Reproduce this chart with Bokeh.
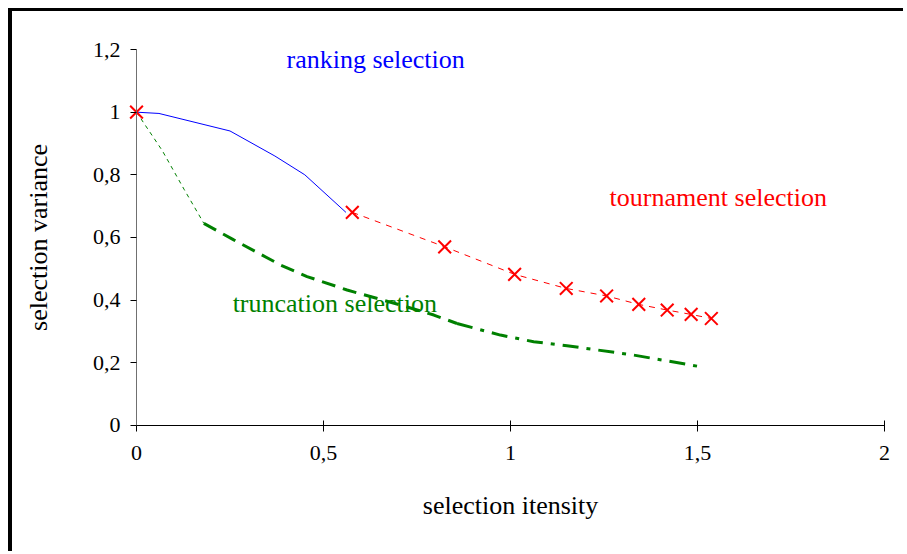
import math
from bokeh.plotting import figure
from bokeh.models import ColumnDataSource, Label, FixedTicker, CustomJSTickFormatter
from bokeh.embed import file_html
from bokeh.resources import INLINE

# Ranking selection (blue solid)
rank_x = [0.0, 0.06, 0.25, 0.37, 0.45, 0.56]
rank_y = [1.0, 0.996, 0.94, 0.86, 0.80, 0.68]

# Tournament selection (red crosses, dashed line)
tour_x = [0.0, 0.577, 0.824, 1.011, 1.149, 1.257, 1.343, 1.419, 1.483, 1.537]
tour_y = [1.0, 0.680, 0.570, 0.482, 0.437, 0.413, 0.386, 0.368, 0.354, 0.341]

# Truncation selection (green)
trunc_x = [0.0, 0.069, 0.127, 0.18, 0.26, 0.385, 0.456, 0.563, 0.706, 0.795, 0.857,
           0.973, 1.062, 1.151, 1.33, 1.517]
trunc_y = [1.0, 0.877, 0.754, 0.645, 0.592, 0.512, 0.475, 0.432, 0.384, 0.352, 0.325,
           0.288, 0.267, 0.254, 0.224, 0.185]

x_ticks = [0, 0.5, 1, 1.5, 2]
y_ticks = [0, 0.2, 0.4, 0.6, 0.8, 1.0, 1.2]
x_title = "selection itensity"
y_title = "selection variance"

FONT = "Liberation Serif"

p = figure(width=895, height=543, x_range=(-0.3316, 2.0615), y_range=(-0.4128, 1.3216),
           output_backend="svg", toolbar_location=None,
           min_border_left=0, min_border_top=0, min_border_right=0, min_border_bottom=0)
p.styles = {"border-left": "4px solid black", "border-top": "3px solid black",
            "margin-left": "8px", "margin-top": "8px"}
p.grid.visible = False
p.outline_line_color = None
p.background_fill_color = "white"
p.border_fill_color = "white"

fmt = CustomJSTickFormatter(code="return String(Math.round(tick*10)/10).replace('.', ',');")

p.xaxis.ticker = FixedTicker(ticks=x_ticks)
p.yaxis.ticker = FixedTicker(ticks=y_ticks)
p.xaxis.formatter = fmt
p.yaxis.formatter = fmt
for ax in (p.xaxis, p.yaxis):
    ax.minor_tick_line_color = None
    ax.major_label_text_font = FONT
    ax.major_label_text_font_size = "22px"
    ax.major_label_text_color = "black"
p.xaxis.bounds = (x_ticks[0], x_ticks[-1])
p.yaxis.bounds = (y_ticks[0], y_ticks[-1])
p.xaxis.fixed_location = 0
p.yaxis.fixed_location = 0
p.xaxis.axis_line_color = "black"
p.xaxis.major_tick_in = 5
p.xaxis.major_tick_out = 6
p.xaxis.major_label_standoff = 15
p.yaxis.axis_line_color = "#707070"
p.yaxis.major_tick_in = 0
p.yaxis.major_tick_out = 6
p.yaxis.major_label_standoff = 10

src_rank = ColumnDataSource(dict(x=rank_x, y=rank_y))
p.line("x", "y", source=src_rank, line_color="blue", line_width=1)

# truncation: three styled segments
p.line(trunc_x[:4], trunc_y[:4], line_color="green", line_width=1, line_dash="4 4")
p.line(trunc_x[3:11], trunc_y[3:11], line_color="green", line_width=3, line_dash="14 8")
p.line(trunc_x[10:], trunc_y[10:], line_color="green", line_width=3, line_dash="16 8 4 8")

p.line(tour_x[1:], tour_y[1:], line_color="red", line_width=1, line_dash="6 6")
p.scatter(tour_x, tour_y, marker="x", size=18, line_color="red", line_width=2)

# axis titles
p.add_layout(Label(x=(x_ticks[0] + x_ticks[-1]) / 2, y=0, y_offset=-80, text=x_title,
                   text_color="black", text_font=FONT, text_font_size="26px",
                   text_align="center", text_baseline="middle"))
p.add_layout(Label(x=0, y=(y_ticks[0] + y_ticks[-1]) / 2, x_offset=-98, text=y_title,
                   angle=math.pi / 2, text_color="black", text_font=FONT,
                   text_font_size="26px", text_align="center", text_baseline="middle"))

p.add_layout(Label(x=0.401, y=1.168, text="ranking selection", text_color="blue",
                   text_font=FONT, text_font_size="26px", text_baseline="middle"))
p.add_layout(Label(x=1.265, y=0.726, text="tournament selection", text_color="red",
                   text_font=FONT, text_font_size="26px", text_baseline="middle"))
p.add_layout(Label(x=0.257, y=0.39, text="truncation selection", text_color="green",
                   text_font=FONT, text_font_size="26px", text_baseline="middle"))

open("out.html", "w").write(file_html(p, INLINE))
